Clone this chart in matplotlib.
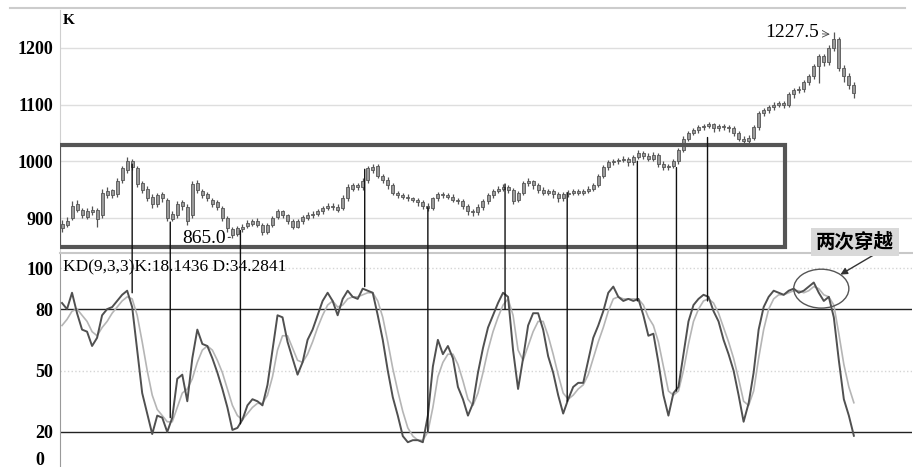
import numpy as np
import matplotlib
matplotlib.use("Agg")
import matplotlib.pyplot as plt
from matplotlib.patches import Rectangle, Ellipse, ConnectionPatch

# ---- price data (one entry per bar) ----
open_ = [882, 888, 900, 925, 915, 902, 910, 915, 905, 940, 950, 942, 968, 985, 1000, 988, 962, 952, 938, 925,
         942, 932, 898, 905, 928, 920, 905, 962, 948, 942, 932, 928, 918, 900, 880, 872, 880, 886, 890, 895,
         888, 876, 888, 902, 912, 905, 895, 885, 895, 900, 905, 908, 912, 918, 922, 920, 918, 935, 952, 958,
         955, 968, 985, 992, 975, 968, 958, 945, 940, 938, 935, 932, 928, 922, 918, 935, 942, 940, 938, 932,
         930, 922, 912, 910, 920, 930, 940, 948, 952, 955, 950, 932, 945, 962, 965, 958, 950, 945, 948, 942,
         935, 942, 945, 948, 945, 948, 952, 958, 975, 990, 998, 1000, 1002, 1005, 998, 1008, 1015, 1010, 1005, 1012,
         995, 990, 992, 1000, 1020, 1040, 1050, 1055, 1060, 1062, 1065, 1058, 1062, 1060, 1058, 1050, 1040, 1035, 1042, 1060,
         1085, 1090, 1095, 1100, 1102, 1100, 1118, 1125, 1128, 1140, 1150, 1168, 1185, 1175, 1200, 1215, 1165, 1150, 1135]
close = [890, 895, 922, 915, 905, 912, 915, 898, 945, 948, 940, 965, 988, 1000, 990, 960, 950, 935, 925, 940,
         935, 900, 908, 925, 922, 895, 960, 950, 940, 935, 925, 920, 900, 882, 870, 882, 885, 892, 895, 888,
         875, 888, 900, 912, 905, 895, 885, 895, 902, 905, 908, 912, 918, 922, 920, 915, 935, 955, 958, 955,
         965, 988, 990, 975, 968, 958, 945, 940, 938, 935, 932, 928, 922, 918, 935, 942, 940, 938, 932, 930,
         922, 912, 910, 920, 930, 940, 948, 952, 955, 950, 930, 945, 962, 965, 958, 950, 945, 948, 942, 935,
         942, 945, 948, 945, 948, 952, 958, 975, 990, 998, 1000, 1002, 1005, 998, 1008, 1015, 1010, 1005, 1012, 995,
         990, 992, 1000, 1020, 1040, 1050, 1055, 1060, 1062, 1065, 1058, 1062, 1060, 1058, 1050, 1040, 1035, 1042, 1060, 1085,
         1090, 1095, 1100, 1102, 1100, 1118, 1125, 1128, 1140, 1150, 1168, 1185, 1175, 1200, 1215, 1165, 1150, 1135, 1120]
high = [896, 902, 930, 932, 918, 918, 922, 918, 952, 955, 952, 970, 992, 1008, 1004, 992, 965, 956, 942, 945,
        946, 935, 912, 930, 932, 924, 966, 968, 952, 946, 936, 932, 922, 904, 884, 886, 890, 896, 898, 900,
        892, 892, 904, 916, 915, 908, 898, 898, 906, 910, 912, 916, 922, 926, 926, 924, 940, 960, 962, 962,
        970, 992, 996, 996, 978, 972, 962, 948, 944, 942, 938, 936, 932, 926, 938, 946, 946, 944, 942, 936,
        934, 925, 916, 924, 934, 944, 952, 956, 960, 958, 953, 948, 966, 970, 968, 962, 954, 952, 952, 946,
        946, 950, 952, 952, 952, 956, 962, 978, 994, 1002, 1004, 1006, 1010, 1008, 1012, 1020, 1018, 1014, 1016, 1015,
        1000, 996, 1004, 1024, 1044, 1054, 1058, 1064, 1066, 1070, 1068, 1066, 1066, 1064, 1062, 1054, 1044, 1046, 1064, 1088,
        1094, 1099, 1104, 1106, 1106, 1122, 1129, 1132, 1144, 1154, 1172, 1190, 1190, 1205, 1227.5, 1220, 1170, 1155, 1140]
low = [875, 884, 896, 910, 900, 898, 906, 885, 900, 936, 935, 938, 962, 980, 985, 955, 945, 930, 918, 920,
       928, 895, 894, 900, 915, 888, 900, 945, 935, 930, 920, 915, 895, 876, 865, 868, 876, 882, 886, 884,
       870, 872, 884, 898, 900, 890, 880, 882, 890, 896, 900, 904, 908, 914, 914, 910, 914, 930, 948, 950,
       950, 962, 980, 970, 962, 952, 940, 935, 934, 930, 928, 922, 916, 912, 914, 930, 935, 934, 928, 925,
       916, 906, 904, 906, 915, 925, 935, 944, 947, 944, 925, 928, 940, 956, 952, 945, 940, 940, 936, 928,
       930, 938, 940, 940, 940, 944, 948, 954, 970, 985, 994, 995, 998, 992, 994, 1004, 1005, 1000, 1000, 990,
       985, 985, 988, 996, 1016, 1035, 1046, 1050, 1055, 1058, 1052, 1054, 1055, 1052, 1045, 1035, 1030, 1030, 1038, 1055,
       1080, 1086, 1090, 1095, 1094, 1096, 1112, 1120, 1122, 1135, 1145, 1138, 1168, 1170, 1195, 1160, 1140, 1128, 1112]

# ---- KD(9,3,3) ----
k_line = [83, 80, 88, 78, 70, 69, 62, 66, 77, 80, 81, 84, 87, 89, 81, 60, 39, 29, 19, 28,
          27, 20, 27, 46, 48, 35, 56, 70, 63, 62, 56, 49, 41, 32, 21, 22, 26, 33, 36, 35,
          33, 43, 60, 77, 76, 64, 56, 48, 54, 65, 70, 77, 84, 88, 84, 77, 85, 89, 86, 85,
          90, 89, 88, 77, 65, 50, 37, 28, 18, 15, 16, 16, 15, 28, 52, 65, 58, 62, 56, 42,
          36, 28, 34, 49, 61, 71, 77, 83, 88, 86, 60, 41, 56, 72, 78, 78, 70, 57, 49, 38,
          29, 36, 42, 44, 44, 55, 66, 72, 79, 88, 91, 86, 84, 85, 84, 85, 77, 67, 68, 54,
          38, 28, 39, 42, 58, 74, 82, 85, 87, 86, 79, 74, 65, 58, 50, 38, 25, 34, 49, 70,
          81, 86, 89, 88, 87, 89, 90, 88, 89, 91, 93, 88, 84, 86, 76, 55, 36, 28, 18.1436]
d_line = [72, 75, 79, 80, 77, 74, 69, 67, 71, 74, 78, 81, 84, 86, 85, 77, 64, 50, 38, 31,
          28, 25, 25, 32, 39, 41, 46, 54, 60, 62, 60, 55, 49, 41, 33, 28, 26, 29, 32, 34,
          34, 38, 47, 60, 67, 67, 61, 55, 54, 58, 64, 71, 77, 82, 84, 81, 82, 85, 86, 86,
          87, 88, 88, 84, 76, 64, 51, 40, 30, 22, 18, 16, 16, 20, 32, 47, 54, 58, 58, 53,
          45, 36, 33, 39, 49, 60, 69, 76, 82, 85, 77, 60, 55, 62, 69, 74, 74, 67, 58, 48,
          39, 36, 38, 41, 43, 48, 56, 64, 71, 79, 85, 86, 85, 85, 85, 85, 82, 76, 72, 64,
          52, 40, 38, 40, 50, 63, 74, 80, 84, 85, 83, 78, 71, 64, 56, 46, 35, 33, 40, 56,
          70, 80, 85, 87, 87, 88, 89, 89, 88, 89, 91, 90, 87, 86, 82, 68, 53, 42, 34.2841]

# bar index, price at top end, KD value at bottom end
links = [(14, 995, 88), (21.6, 893, 27), (35.6, 878, 24), (60.4, 986, 91), (73, 919, 20),
         (88.4, 960, 80), (100.8, 945, 35), (114.8, 1000, 84), (122.6, 989, 40), (128.8, 1042, 84)]

serif = ['Liberation Serif', 'DejaVu Serif']
cjk = ['Noto Sans CJK SC', 'DejaVu Sans']

W, H = 913, 467
fig = plt.figure(figsize=(W / 100, H / 100), dpi=100)
fig.patch.set_facecolor('white')

x = np.arange(len(close))
xlim = (-0.4, 169.6)

# ---------- price panel ----------
ax1 = fig.add_axes([60 / W, 1 - 251 / H, (W - 61) / W, 241 / H])
ax1.set_xlim(*xlim)
ax1.set_ylim(842, 1266.7)
for v in [900, 1000, 1100, 1200]:
    ax1.axhline(v, color='#dedede', lw=1, zorder=0)
ax1.vlines(x, low, high, color='#555555', lw=0.9, zorder=2)
o = np.array(open_, float)
c = np.array(close, float)
ax1.bar(x, np.maximum(np.abs(c - o), 1.5), bottom=np.minimum(o, c), width=0.6,
        color='#9a9a9a', edgecolor='#555555', linewidth=0.6, zorder=3)
ax1.add_patch(Rectangle((-0.6, 849), 144.8, 179, fill=False, edgecolor='#555555', lw=3, zorder=4))
ax1.set_yticks([900, 1000, 1100, 1200])
ax1.set_yticklabels(['900', '1000', '1100', '1200'], fontfamily=serif, fontsize=13, fontweight='bold')
ax1.tick_params(axis='y', length=0, pad=5)
ax1.set_xticks([])
for s in ['top', 'right', 'bottom']:
    ax1.spines[s].set_visible(False)
ax1.spines['left'].set_color('#cfcfcf')
ax1.text(0.003, 0.985, 'K', transform=ax1.transAxes, ha='left', va='top',
         fontfamily=serif, fontsize=11, fontweight='bold')

ax1.annotate('1227.5', xy=(153.2, 1224), xytext=(151.0, 1227), ha='right', va='center',
             fontfamily=serif, fontsize=14,
             bbox=dict(boxstyle='square,pad=0.15', fc='white', ec='none'),
             arrowprops=dict(arrowstyle='->', lw=0.6, color='#444444', shrinkA=0, shrinkB=0))
ax1.annotate('865.0', xy=(33.6, 866), xytext=(32.6, 864), ha='right', va='center',
             fontfamily=serif, fontsize=14,
             arrowprops=dict(arrowstyle='-', lw=0.8, color='#444444', shrinkA=0, shrinkB=0))

# ---------- KD panel ----------
ax2 = fig.add_axes([60 / W, 0, (W - 61) / W, 1 - 253 / H - 0.0005])
ax2.set_xlim(*xlim)
ax2.set_ylim(2.9, 107.3)
for v in [50, 100]:
    ax2.axhline(v, color='#d5d5d5', lw=1, ls=':', zorder=0)
for v in [20, 80]:
    ax2.axhline(v, color='#222222', lw=1, zorder=1)
ax2.plot(x, d_line, color='#b5b5b5', lw=1.2, zorder=2)
ax2.plot(x, k_line, color='#505050', lw=1.4, zorder=3)
ax2.set_yticks([20, 50, 80, 100])
ax2.set_yticklabels(['20', '50', '80', '100'], fontfamily=serif, fontsize=13, fontweight='bold')
ax2.tick_params(axis='y', length=0, pad=5)
ax2.text(-3.6, 6.3, '0', ha='right', va='center', fontfamily=serif, fontsize=13, fontweight='bold')
ax2.set_xticks([])
for s in ['right', 'bottom']:
    ax2.spines[s].set_visible(False)
ax2.spines['top'].set_color('#c8c8c8')
ax2.spines['top'].set_linewidth(1.5)
ax2.spines['left'].set_color('#9a9a9a')
ax2.text(0.2, 100.5, 'KD(9,3,3)K:18.1436 D:34.2841', ha='left', va='center',
         fontfamily=serif, fontsize=12.5)

ax2.add_patch(Ellipse((151.5, 90), 11, 19, fill=False, edgecolor='#555555', lw=1, zorder=4))
ax2.annotate('', xy=(838, H - 276), xycoords='figure pixels',
             xytext=(877, H - 253), textcoords='figure pixels',
             arrowprops=dict(arrowstyle='-|>', lw=1, color='#333333', mutation_scale=10))
fig.text(855 / W, 1 - 242 / H, '两次穿越', ha='center', va='center', fontfamily=cjk,
         fontsize=14, fontweight='bold',
         bbox=dict(boxstyle='square,pad=0.25', fc='#d9d9d9', ec='none'))

# connectors from price extremes down to KD extremes
for i, p, k in links:
    con = ConnectionPatch(xyA=(i, p), coordsA=ax1.transData, xyB=(i, k), coordsB=ax2.transData,
                          color='#111111', lw=1)
    fig.add_artist(con)

# top border line
fig.add_artist(plt.Line2D([10 / W, 905 / W], [1 - 8 / H, 1 - 8 / H], color='#cccccc', lw=1.5))

fig.savefig('out.png', dpi=100)
